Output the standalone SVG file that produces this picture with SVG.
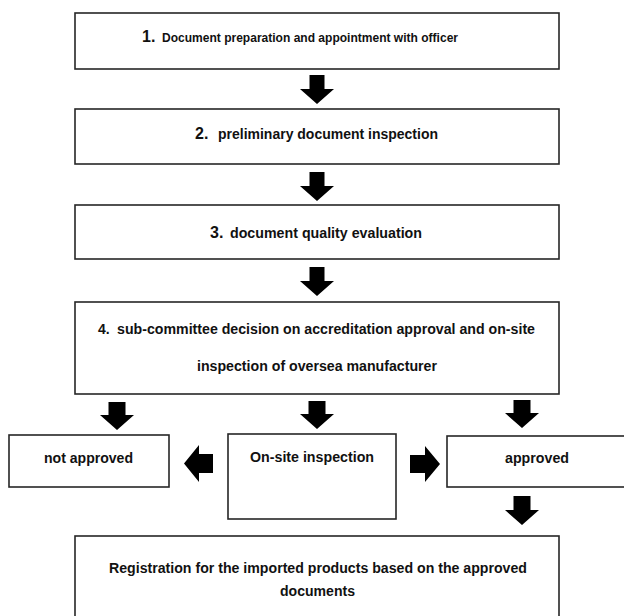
<svg xmlns="http://www.w3.org/2000/svg" width="624" height="616" viewBox="0 0 624 616">
<style>
.box{fill:#fff;stroke:#262626;stroke-width:1.6}
.t{font-family:"Liberation Sans",Arial,Helvetica,sans-serif;font-weight:bold;font-size:14px;fill:#111}
.n{font-size:16px}
.arr{fill:#000}
</style>
<rect width="624" height="616" fill="#fff"/>
<g id="node1">
<rect class="box" x="75" y="13" width="484" height="56"/>
<text class="t" y="42"><tspan class="n" x="142">1.</tspan><tspan x="162" font-size="12.5" textLength="296" lengthAdjust="spacingAndGlyphs">Document preparation and appointment with officer</tspan></text>
</g>
<g id="node2">
<rect class="box" x="75" y="109" width="484" height="55"/>
<text class="t" y="139"><tspan class="n" x="195">2.</tspan><tspan x="218" textLength="220" lengthAdjust="spacingAndGlyphs">preliminary document inspection</tspan></text>
</g>
<g id="node3">
<rect class="box" x="75" y="205" width="484" height="54"/>
<text class="t" y="238"><tspan class="n" x="210">3.</tspan><tspan x="230" textLength="192" lengthAdjust="spacingAndGlyphs">document quality evaluation</tspan></text>
</g>
<g id="node4">
<rect class="box" x="75" y="302" width="484" height="92"/>
<text class="t" y="334"><tspan x="98">4.</tspan><tspan x="117" textLength="418" lengthAdjust="spacingAndGlyphs">sub-committee decision on accreditation approval and on-site</tspan></text>
<text class="t" x="197" y="371" textLength="240" lengthAdjust="spacingAndGlyphs">inspection of oversea manufacturer</text>
</g>
<g id="node-not-approved">
<rect class="box" x="9" y="435" width="160" height="52"/>
<text class="t" x="44" y="463" textLength="89" lengthAdjust="spacingAndGlyphs">not approved</text>
</g>
<g id="node-onsite">
<rect class="box" x="228" y="434" width="168" height="85"/>
<text class="t" x="250" y="462" textLength="124" lengthAdjust="spacingAndGlyphs">On-site inspection</text>
</g>
<g id="node-approved">
<rect class="box" x="447" y="436" width="180" height="51"/>
<text class="t" x="505" y="463" textLength="64" lengthAdjust="spacingAndGlyphs">approved</text>
</g>
<g id="node-registration">
<rect class="box" x="75" y="536" width="484" height="90"/>
<text class="t" x="109" y="573" textLength="418" lengthAdjust="spacingAndGlyphs">Registration for the imported products based on the approved</text>
<text class="t" x="280" y="596" textLength="75" lengthAdjust="spacingAndGlyphs">documents</text>
</g>
<g id="connectors">
<path class="arr" d="M309.5 75H324.5V89H334L317 104L300 89H309.5Z"/>
<path class="arr" d="M309.5 172H324.5V186H334L317 201L300 186H309.5Z"/>
<path class="arr" d="M309.5 267H324.5V281H334L317 296L300 281H309.5Z"/>
<path class="arr" d="M108.5 402H125.5V415H134L117 430L100 415H108.5Z"/>
<path class="arr" d="M308.5 401H325.5V414H334L317 429L300 414H308.5Z"/>
<path class="arr" d="M513.5 400H530.5V413H539L522 428L505 413H513.5Z"/>
<path class="arr" d="M513.5 496H530.5V510H539L522 525L505 510H513.5Z"/>
<path class="arr" d="M213 454V473H199V482L184 463.5L199 445V454Z"/>
<path class="arr" d="M410 455V473H425V482L440 464L425 446V455Z"/>
</g>
</svg>
